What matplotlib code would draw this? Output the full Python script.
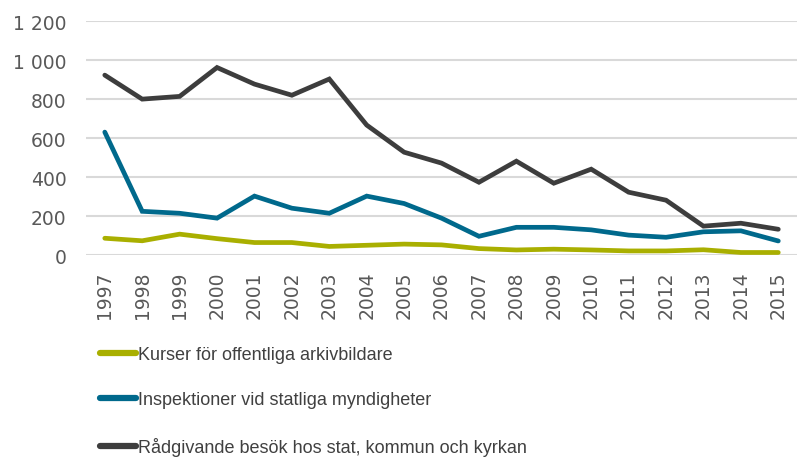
import matplotlib
matplotlib.use('Agg')
import matplotlib.pyplot as plt
import numpy as np

years = [str(y) for y in range(1997, 2016)]

kurser = [87, 74, 108, 85, 65, 65, 45, 51, 57, 53, 34, 27, 31, 27, 22, 22, 28, 14, 14]
inspektioner = [631, 225, 215, 190, 303, 241, 215, 303, 265, 190, 97, 143, 143, 130, 103, 92, 120, 125, 73]
radgivande = [923, 800, 814, 962, 877, 820, 903, 667, 528, 472, 374, 482, 369, 441, 323, 282, 149, 164, 133]

labels = ['Kurser för offentliga arkivbildare',
          'Inspektioner vid statliga myndigheter',
          'Rådgivande besök hos stat, kommun och kyrkan']
colors = ['#A9AF00', '#00698C', '#3D3D3D']

yticks = [0, 200, 400, 600, 800, 1000, 1200]
ytick_labels = ['0', '200', '400', '600', '800', '1 000', '1 200']

fig = plt.figure(figsize=(7.97, 4.6), dpi=100)
ax = fig.add_axes([0.108, 0.443, 0.892, 0.509])

x = np.arange(len(years))
for vals, lab, col in zip([kurser, inspektioner, radgivande], labels, colors):
    ax.plot(x, vals, color=col, lw=3.4, label=lab, solid_capstyle='round',
            solid_joinstyle='miter')

ax.set_xlim(-0.5, len(years) - 0.5)
ax.set_ylim(0, 1200)
ax.set_yticks(yticks)
ax.set_yticklabels(ytick_labels)
ax.set_xticks(x)
ax.set_xticklabels(years, rotation=90)
ax.tick_params(axis='both', length=0, labelsize=13.5, colors='#595959')
ax.tick_params(axis='x', pad=11)
ax.tick_params(axis='y', pad=14)
ax.grid(axis='y', color='#D9D9D9', lw=1.5)
ax.set_axisbelow(True)
for s in ax.spines.values():
    s.set_visible(False)

leg = fig.legend(loc='upper left', bbox_to_anchor=(0.125, 0.246), frameon=False,
                 prop={'family': ['Liberation Sans Narrow', 'Liberation Sans', 'DejaVu Sans'], 'size': 13},
                 handlelength=2.0, handletextpad=0.12, labelspacing=1.58,
                 borderaxespad=0, borderpad=0)
for t in leg.get_texts():
    t.set_color('#404040')
for h in leg.get_lines():
    h.set_linewidth(4.5)
    h.set_solid_capstyle('round')

fig.savefig('out.png', dpi=100)
